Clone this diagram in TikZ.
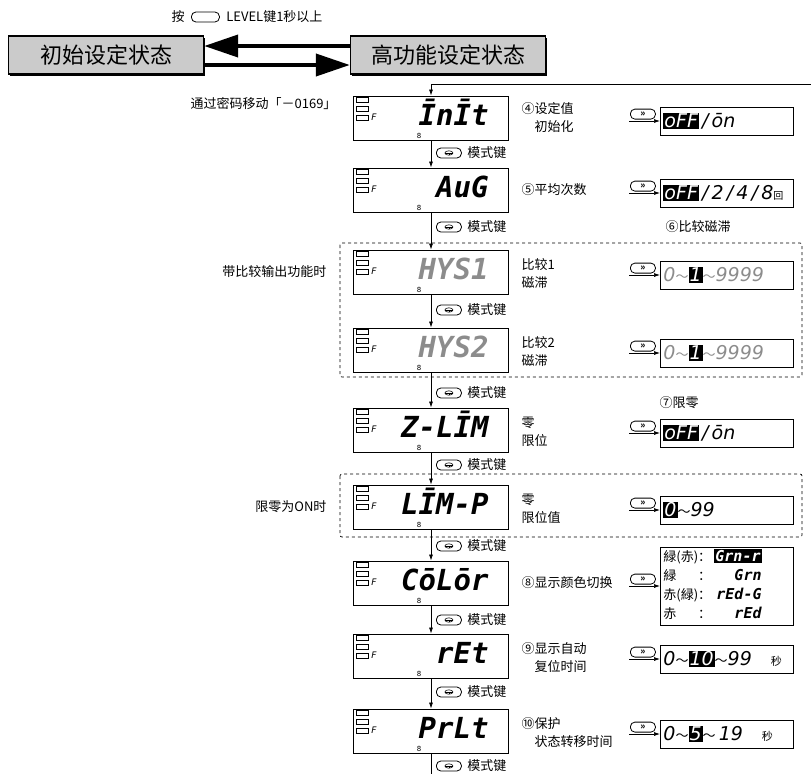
\documentclass[tikz,border=0pt]{standalone}
\usepackage{fontspec}
\usepackage{array}
\setmainfont{Noto Sans CJK SC}
\newfontfamily\cjk{Noto Sans CJK SC}
\newfontfamily\segfont{DejaVu Sans}
\newfontfamily\lcdfont{DejaVu Sans Mono}
\usetikzlibrary{arrows.meta,positioning,calc,shadows}
\definecolor{panelgrey}{HTML}{CBCBCB}
\definecolor{dimgrey}{HTML}{8C8C8C}
\newcommand{\hl}[1]{{\setlength{\fboxsep}{1pt}\colorbox{black}{\textcolor{white}{#1}}}}
\newcommand{\til}{{\cjk\fontsize{13}{13}\selectfont ～}}
% lamps, F mark and sub digit of one display
\newcommand{\lcdparts}[1]{%
  \foreach \k in {0,1,2}
    \draw[lamp] ($(#1.north west)+(3,2+9*\k)$) rectangle +(12,5);
  \node[font=\segfont\itshape\fontsize{9}{9}\selectfont,inner sep=0pt] (#1f) at ($(#1.north west)+(21,22)$) {F};
  \node[font=\segfont\fontsize{7}{7}\selectfont,inner sep=0pt] (#1s) at ($(#1.south)+(-12,-5)$) {8};
}

\begin{document}
\begin{tikzpicture}[x=1pt,y=-1pt,
every node/.style={font=\fontsize{13}{18}\selectfont},
state/.style={draw,line width=1.4pt,fill=panelgrey,minimum width=195pt,minimum height=38pt,
  font=\fontsize{22}{24}\selectfont,drop shadow={shadow xshift=1.6pt,shadow yshift=-1.6pt,opacity=1,fill=black}},
lcd/.style={draw,line width=0.9pt,minimum height=44pt,text width=115pt,inner xsep=20pt,inner ysep=0pt,
  text height=18.2pt,text depth=3pt,align=right,font=\lcdfont\bfseries\itshape\fontsize{29}{29}\selectfont},
vbox/.style={draw,line width=0.9pt,minimum height=28pt,text width=127pt,inner xsep=3pt,inner ysep=1pt,
  align=left,anchor=west,font=\segfont\itshape\fontsize{19}{19}\selectfont},
lamp/.style={draw,line width=0.5pt},
keyoval/.style={draw,rounded corners=4.5pt,minimum width=25pt,minimum height=10pt,inner sep=0pt,
  line width=0.8pt,font=\fontsize{9}{9}\selectfont\bfseries},
modekey/.style={keyoval,path picture={
  \draw[line width=0.6pt] (path picture bounding box.center) ellipse [x radius=4pt,y radius=2.2pt];
  \draw[line width=0.6pt] ([xshift=-4pt]path picture bounding box.center) -- ([xshift=4pt]path picture bounding box.center);
  \draw[line width=0.6pt] (path picture bounding box.center) -- ([yshift=-2.2pt]path picture bounding box.center);}},
rlab/.style={anchor=west,align=left},
llab/.style={anchor=east},
flow/.style={-{Latex[length=6pt,width=4pt]},line width=0.7pt},
bigarr/.style={-{Triangle[length=34pt,width=22pt]},line width=4pt},
grp/.style={draw,dashed,line width=0.7pt,rounded corners=2pt}
]
\useasboundingbox (0,0) rectangle (811,774);

% state change
\node[state] (init) at (106,55) {初始设定状态};
\node[state] (adv) at (448,55) {高功能设定状态};
\node (lvlA) at (178,17) {按};
\node[keyoval,minimum width=28pt,right=3pt of lvlA] (lvlkey) {};
\node[right=3pt of lvlkey] (lvlB) {LEVEL键1秒以上};
\draw[bigarr] ([yshift=9pt]adv.west) -- ([yshift=9pt]init.east);
\draw[bigarr] ([yshift=-10pt]init.east) -- ([yshift=-10pt]adv.west);

% groups
\draw[grp] (340,243) rectangle (802,377);
\draw[grp] (340,474) rectangle (802,537);

% displays
\node[lcd] (d1) at (431,118) {ĪnĪt};
\node[lcd] (d2) at (431,190) {AuG};
\node[lcd,text=dimgrey] (d3) at (431,272) {HYS1};
\node[lcd,text=dimgrey] (d4) at (431,350) {HYS2};
\node[lcd] (d5) at (431,430) {Z-LĪM};
\node[lcd] (d6) at (431,507) {LĪM-P};
\node[lcd] (d7) at (431,583) {CōLōr};
\node[lcd] (d8) at (431,656) {rEt};
\node[lcd] (d9) at (431,731) {PrLt};
\lcdparts{d1}\lcdparts{d2}\lcdparts{d3}\lcdparts{d4}\lcdparts{d5}
\lcdparts{d6}\lcdparts{d7}\lcdparts{d8}\lcdparts{d9}

\coordinate (back) at (811,84);
\coordinate (down) at (431,774);
\draw[flow] (back) -| (d1.north);
\draw[flow] (d1) -- (d2);
\draw[flow] (d2) -- (d3);
\draw[flow] (d3) -- (d4);
\draw[flow] (d4) -- (d5);
\draw[flow] (d5) -- (d6);
\draw[flow] (d6) -- (d7);
\draw[flow] (d7) -- (d8);
\draw[flow] (d8) -- (d9);
\draw[line width=0.7pt] (d9) -- (down);

% mode key
\node[modekey,anchor=west] (mk1) at (436,153) {}; \node[right=2pt of mk1] (mt1) {模式键};
\node[modekey,anchor=west] (mk2) at (436,227) {}; \node[right=2pt of mk2] (mt2) {模式键};
\node[modekey,anchor=west] (mk3) at (436,310) {}; \node[right=2pt of mk3] (mt3) {模式键};
\node[modekey,anchor=west] (mk4) at (436,393) {}; \node[right=2pt of mk4] (mt4) {模式键};
\node[modekey,anchor=west] (mk5) at (436,465) {}; \node[right=2pt of mk5] (mt5) {模式键};
\node[modekey,anchor=west] (mk6) at (436,546) {}; \node[right=2pt of mk6] (mt6) {模式键};
\node[modekey,anchor=west] (mk7) at (436,620) {}; \node[right=2pt of mk7] (mt7) {模式键};
\node[modekey,anchor=west] (mk8) at (436,692) {}; \node[right=2pt of mk8] (mt8) {模式键};
\node[modekey,anchor=west] (mk9) at (436,766) {}; \node[right=2pt of mk9] (mt9) {模式键};

% left notes
\node[llab] (pw) at (340,104) {通过密码移动「－0169」};
\node[llab] (cmp) at (330,272) {带比较输出功能时};
\node[llab] (zon) at (330,507) {限零为ON时};

% right notes
\node[rlab] (t1) at (518,118) {④设定值\\\hspace{1em}初始化};
\node[rlab] (t2) at (518,190) {⑤平均次数};
\node[rlab] (t3) at (518,274) {比较1\\磁滞};
\node[rlab] (t4) at (518,352) {比较2\\磁滞};
\node[rlab] (t5) at (518,432) {零\\限位};
\node[rlab] (t6) at (518,509) {零\\限位值};
\node[rlab] (t7) at (518,583) {⑧显示颜色切换};
\node[rlab] (t8) at (518,658) {⑨显示自动\\\hspace{1em}复位时间};
\node[rlab] (t9) at (518,733) {⑩保护\\\hspace{1em}状态转移时间};
\node[rlab] (hys) at (662,227) {⑥比较磁滞};
\node[rlab] (zlim) at (656,403) {⑦限零};

% set values
\coordinate (a1) at (629,121);
\coordinate (a2) at (629,193);
\coordinate (a3) at (629,275);
\coordinate (a4) at (629,353);
\coordinate (a5) at (629,433);
\coordinate (a6) at (629,510);
\coordinate (a7) at (629,586);
\coordinate (a8) at (629,659);
\coordinate (a9) at (629,734);
\node[keyoval,above right=1.5pt and 1pt of a1] (k1) {»};
\node[keyoval,above right=1.5pt and 1pt of a2] (k2) {»};
\node[keyoval,above right=1.5pt and 1pt of a3] (k3) {»};
\node[keyoval,above right=1.5pt and 1pt of a4] (k4) {»};
\node[keyoval,above right=1.5pt and 1pt of a5] (k5) {»};
\node[keyoval,above right=1.5pt and 1pt of a6] (k6) {»};
\node[keyoval,above right=1.5pt and 1pt of a7] (k7) {»};
\node[keyoval,above right=1.5pt and 1pt of a8] (k8) {»};
\node[keyoval,above right=1.5pt and 1pt of a9] (k9) {»};

\node[vbox] (v1) at (660,121) {\hl{oFF}\,/\,ōn};
\node[vbox] (v2) at (660,193) {\hl{oFF}\,/\,2\,/\,4\,/\,8{\cjk\fontsize{10}{10}\selectfont 回}};
\node[vbox] (v3) at (660,275) {{\color{dimgrey}0\til\hl{1}\til 9999}};
\node[vbox] (v4) at (660,353) {{\color{dimgrey}0\til\hl{1}\til 9999}};
\node[vbox] (v5) at (660,433) {\hl{oFF}\,/\,ōn};
\node[vbox] (v6) at (660,510) {\hl{0}\til 99};
\node[vbox,minimum height=78pt] (v7) at (660,586) {%
\begin{tabular}{@{}>{\cjk\fontsize{13}{15}\selectfont}l@{}>{\cjk\fontsize{13}{15}\selectfont}c@{\,}>{\lcdfont\bfseries\itshape\fontsize{15}{15}\selectfont}r@{}}
緑(赤)&：&\hl{Grn-r}\\
緑&：&Grn\\
赤(緑)&：&rEd-G\\
赤&：&rEd
\end{tabular}};
\node[vbox] (v8) at (660,659) {0\til\hl{10}\til 99\quad{\cjk\fontsize{11}{11}\selectfont 秒}};
\node[vbox] (v9) at (660,734) {0\til\hl{5}\til\,19\quad{\cjk\fontsize{11}{11}\selectfont 秒}};
\draw[flow] (a1) -- (v1);
\draw[flow] (a2) -- (v2);
\draw[flow] (a3) -- (v3);
\draw[flow] (a4) -- (v4);
\draw[flow] (a5) -- (v5);
\draw[flow] (a6) -- (v6);
\draw[flow] (a7) -- (v7);
\draw[flow] (a8) -- (v8);
\draw[flow] (a9) -- (v9);
\end{tikzpicture}
\end{document}
